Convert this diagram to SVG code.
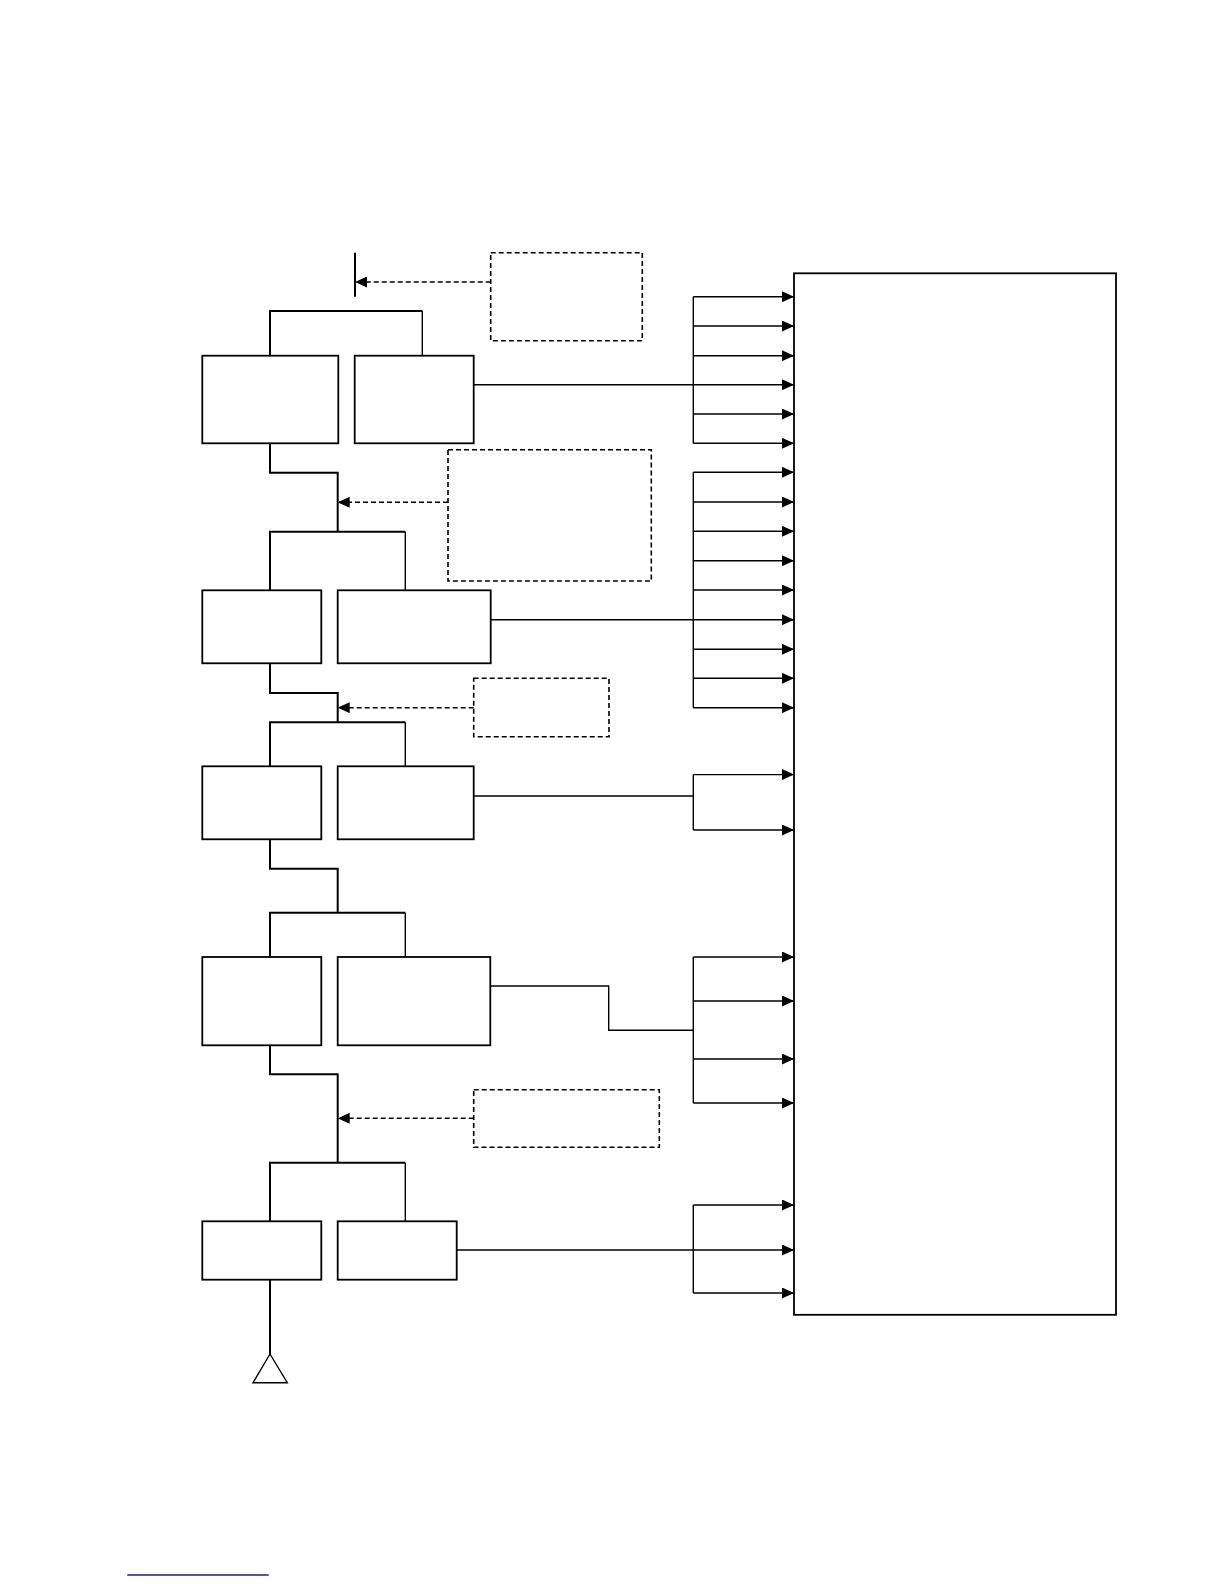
<svg xmlns="http://www.w3.org/2000/svg" width="1224" height="1584" viewBox="0 0 1224 1584">
<style>
.box{fill:#fff;stroke:#000;stroke-width:1.8}
.dbox{fill:none;stroke:#000;stroke-width:1.6;stroke-dasharray:5,3}
.w{fill:none;stroke:#000;stroke-width:2}
.t{fill:none;stroke:#000;stroke-width:1.4}
.d{fill:none;stroke:#000;stroke-width:1.4;stroke-dasharray:5,3}
</style>
<defs>
<marker id="ah" markerWidth="12" markerHeight="11" refX="12" refY="5.5" orient="auto" markerUnits="userSpaceOnUse"><path d="M0,0 L12,5.5 L0,11 z" fill="#000"/></marker>
</defs>
<rect width="1224" height="1584" fill="#fff"/>
<g id="nodes">
<g id="A1"><rect class="box" x="202.3" y="355.7" width="136" height="87.6"/></g>
<g id="B1"><rect class="box" x="354.7" y="355.7" width="119" height="87.6"/></g>
<g id="A2"><rect class="box" x="202.3" y="590.3" width="119" height="73"/></g>
<g id="B2"><rect class="box" x="337.7" y="590.3" width="153" height="73"/></g>
<g id="A3"><rect class="box" x="202.3" y="766.3" width="119" height="73"/></g>
<g id="B3"><rect class="box" x="337.7" y="766.3" width="136" height="73"/></g>
<g id="A4"><rect class="box" x="202.3" y="957" width="119" height="88.3"/></g>
<g id="B4"><rect class="box" x="337.7" y="957" width="152.6" height="88.3"/></g>
<g id="A5"><rect class="box" x="202.3" y="1221.3" width="119" height="58.4"/></g>
<g id="B5"><rect class="box" x="337.7" y="1221.3" width="119" height="58.4"/></g>
<g id="D1"><rect class="dbox" x="490.7" y="252.7" width="151.6" height="88"/></g>
<g id="D2"><rect class="dbox" x="448" y="449.7" width="203.3" height="131.3"/></g>
<g id="D3"><rect class="dbox" x="473.7" y="678.3" width="135.3" height="58.4"/></g>
<g id="D4"><rect class="dbox" x="473.7" y="1089.7" width="185.6" height="57.6"/></g>
<g id="BIG"><rect class="box" x="794" y="273.3" width="322" height="1041.5"/></g>
<g id="ANT"><path class="t" d="M270,1354 L253,1382.7 L287.3,1382.7 Z" fill="#fff"/></g>
</g>
<g id="connectors">
<line class="w" x1="355" y1="252.7" x2="355" y2="296.7"/>
<path class="w" d="M270,355.7 V311 H422.3"/>
<path class="t" d="M422.3,311 V355.7"/>
<path class="w" d="M270,443.3 V472.7 H337.7 V531.7"/>
<path class="w" d="M270,590.3 V531.7 H405.3"/>
<path class="t" d="M405.3,531.7 V590.3"/>
<path class="w" d="M270,663.3 V693 H337.7 V722.3"/>
<path class="w" d="M270,766.3 V722.3 H405.3"/>
<path class="t" d="M405.3,722.3 V766.3"/>
<path class="w" d="M270,839.3 V868.7 H337.7 V912.7"/>
<path class="w" d="M270,957 V912.7 H405.3"/>
<path class="t" d="M405.3,912.7 V957"/>
<path class="w" d="M270,1045.3 V1074.3 H337.7 V1162.7"/>
<path class="w" d="M270,1221.3 V1162.7 H405.3"/>
<path class="t" d="M405.3,1162.7 V1221.3"/>
<line class="w" x1="270" y1="1279.7" x2="270" y2="1354"/>
<line class="d" x1="490.7" y1="282" x2="355" y2="282" marker-end="url(#ah)"/>
<line class="d" x1="448" y1="502.3" x2="337.7" y2="502.3" marker-end="url(#ah)"/>
<line class="d" x1="473.7" y1="707.7" x2="337.7" y2="707.7" marker-end="url(#ah)"/>
<line class="d" x1="473.7" y1="1118.3" x2="337.7" y2="1118.3" marker-end="url(#ah)"/>
<line class="t" x1="473.7" y1="384.7" x2="794" y2="384.7" marker-end="url(#ah)"/>
<line class="t" x1="490.7" y1="619.7" x2="794" y2="619.7" marker-end="url(#ah)"/>
<path class="t" d="M473.7,796 H693.3"/>
<path class="t" d="M490.3,986 H608.7 V1030.3 H693.3"/>
<line class="t" x1="456.7" y1="1250" x2="794" y2="1250" marker-end="url(#ah)"/>
<line class="t" x1="693.3" y1="296.7" x2="693.3" y2="443.3"/>
<line class="t" x1="693.3" y1="296.7" x2="794" y2="296.7" marker-end="url(#ah)"/>
<line class="t" x1="693.3" y1="326" x2="794" y2="326" marker-end="url(#ah)"/>
<line class="t" x1="693.3" y1="355.7" x2="794" y2="355.7" marker-end="url(#ah)"/>
<line class="t" x1="693.3" y1="414" x2="794" y2="414" marker-end="url(#ah)"/>
<line class="t" x1="693.3" y1="443.3" x2="794" y2="443.3" marker-end="url(#ah)"/>
<line class="t" x1="693.3" y1="472.3" x2="693.3" y2="707.7"/>
<line class="t" x1="693.3" y1="472.3" x2="794" y2="472.3" marker-end="url(#ah)"/>
<line class="t" x1="693.3" y1="502" x2="794" y2="502" marker-end="url(#ah)"/>
<line class="t" x1="693.3" y1="531.3" x2="794" y2="531.3" marker-end="url(#ah)"/>
<line class="t" x1="693.3" y1="560.7" x2="794" y2="560.7" marker-end="url(#ah)"/>
<line class="t" x1="693.3" y1="590" x2="794" y2="590" marker-end="url(#ah)"/>
<line class="t" x1="693.3" y1="649.3" x2="794" y2="649.3" marker-end="url(#ah)"/>
<line class="t" x1="693.3" y1="678.3" x2="794" y2="678.3" marker-end="url(#ah)"/>
<line class="t" x1="693.3" y1="707.7" x2="794" y2="707.7" marker-end="url(#ah)"/>
<line class="t" x1="693.3" y1="774.6" x2="693.3" y2="830"/>
<line class="t" x1="693.3" y1="774.6" x2="794" y2="774.6" marker-end="url(#ah)"/>
<line class="t" x1="693.3" y1="830" x2="794" y2="830" marker-end="url(#ah)"/>
<line class="t" x1="693.3" y1="957" x2="693.3" y2="1103"/>
<line class="t" x1="693.3" y1="957" x2="794" y2="957" marker-end="url(#ah)"/>
<line class="t" x1="693.3" y1="1001" x2="794" y2="1001" marker-end="url(#ah)"/>
<line class="t" x1="693.3" y1="1059" x2="794" y2="1059" marker-end="url(#ah)"/>
<line class="t" x1="693.3" y1="1103" x2="794" y2="1103" marker-end="url(#ah)"/>
<line class="t" x1="693.3" y1="1205" x2="693.3" y2="1293"/>
<line class="t" x1="693.3" y1="1205" x2="794" y2="1205" marker-end="url(#ah)"/>
<line class="t" x1="693.3" y1="1293" x2="794" y2="1293" marker-end="url(#ah)"/>
</g>
<line x1="127.3" y1="1575" x2="268.7" y2="1575" stroke="#1a1aa0" stroke-width="1.4"/>
</svg>
